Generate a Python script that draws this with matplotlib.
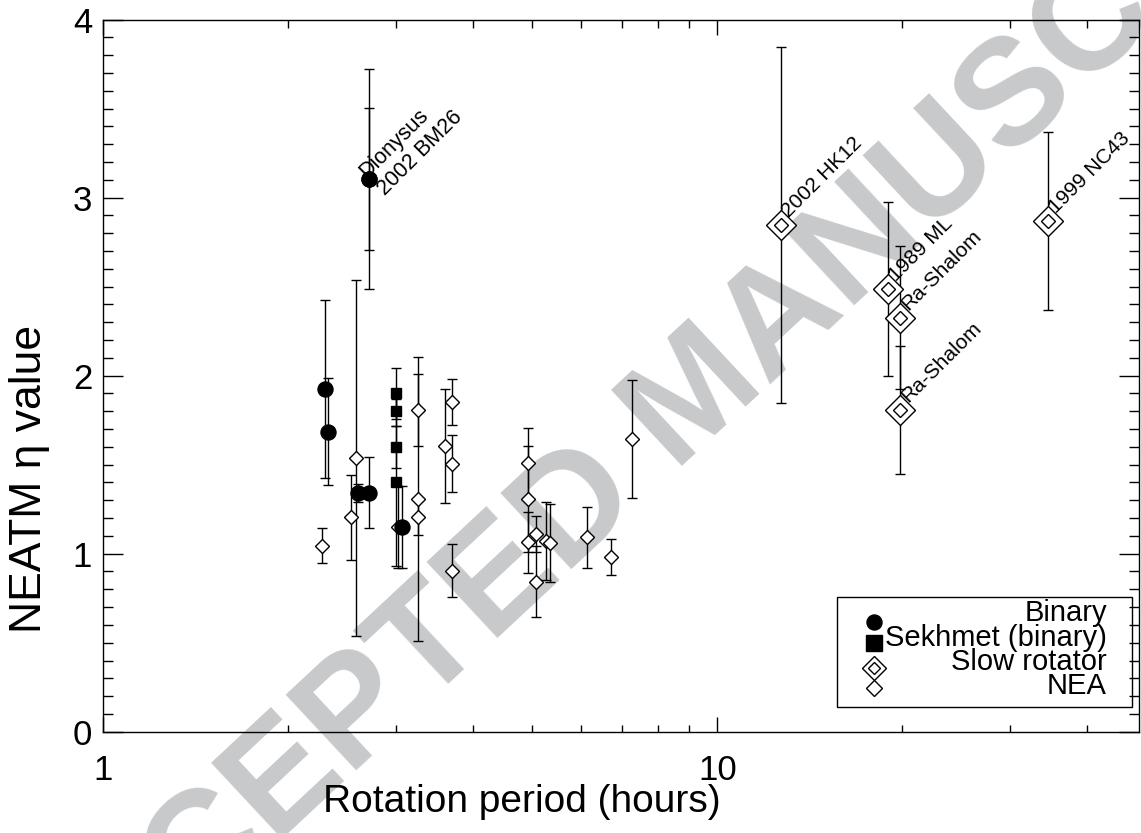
import matplotlib
matplotlib.use("Agg")
import matplotlib.pyplot as plt
from matplotlib.patches import Rectangle

plt.rcParams['font.family'] = ['Liberation Sans', 'DejaVu Sans']

# binary NEAs (filled circles); the last two are the Dionysus / 2002 BM26 points
binary_period = [2.30, 2.32, 2.60, 2.71, 3.07, 2.71, 2.71]
binary_eta = [1.925, 1.685, 1.343, 1.343, 1.152, 3.105, 3.105]
binary_err = [0.50, 0.30, 0.05, 0.20, 0.23, 0.62, 0.40]

# Sekhmet (binary), filled squares
sekhmet_period = [3.00, 3.00, 3.00, 3.00]
sekhmet_eta = [1.90, 1.80, 1.60, 1.40]
sekhmet_err = [0.145, 0.085, 0.12, 0.47]

# other NEAs, open diamonds
nea_period = [2.27, 2.53, 2.58, 3.26, 3.26, 3.26, 3.60, 3.70, 3.70, 3.70, 3.02,
              4.92, 4.92, 4.92, 5.06, 5.06, 5.27, 5.33, 6.14, 6.71, 7.26]
nea_eta = [1.045, 1.204, 1.536, 1.807, 1.307, 1.204, 1.607, 1.854, 1.504, 0.904, 1.152,
           1.508, 1.307, 1.064, 1.109, 0.843, 1.073, 1.060, 1.092, 0.983, 1.644]
nea_err = [0.10, 0.24, 1.00, 0.20, 0.80, 0.10, 0.32, 0.13, 0.16, 0.15, 0.23,
           0.20, 0.30, 0.17, 0.10, 0.20, 0.22, 0.22, 0.17, 0.10, 0.33]

# slow rotators, double diamonds
slow_period = [12.70, 18.95, 19.86, 19.86, 34.5]
slow_eta = [2.847, 2.487, 2.326, 1.807, 2.869]
slow_err = [1.00, 0.49, 0.40, 0.36, 0.50]
slow_names = ['2002 HK12', '1989 ML', 'Ra-Shalom', 'Ra-Shalom', '1999 NC43']

x_major = [1, 10]
x_major_labels = ['1', '10']
x_minor = [2, 3, 4, 5, 6, 7, 8, 9, 20, 30, 40]

legend_labels = ['Binary', 'Sekhmet (binary)', 'Slow rotator', 'NEA']

fig = plt.figure(figsize=(11.41, 8.33), dpi=100, facecolor='white')
ax = fig.add_axes([0.0905, 0.1216, 0.9077, 0.8548])
ax.set_facecolor('none')

# journal watermark behind everything
fig.text(0.612, 0.522, 'ACCEPTED MANUSCRIPT', rotation=43, rotation_mode='anchor',
         ha='center', va='center', fontsize=109, fontweight='bold',
         color='#c8c9cb', zorder=-1)

eb = dict(fmt='none', ecolor='black', elinewidth=1.0, capsize=3.6, capthick=1.0)
ax.errorbar(nea_period, nea_eta, yerr=nea_err, **eb)
ax.errorbar(sekhmet_period, sekhmet_eta, yerr=sekhmet_err, **eb)
ax.errorbar(binary_period, binary_eta, yerr=binary_err, **eb)
ax.errorbar(slow_period, slow_eta, yerr=slow_err, **eb)

ax.plot(nea_period, nea_eta, 'D', ms=7.6, mfc='white', mec='black', mew=1.0, ls='none')
ax.plot(slow_period, slow_eta, 'D', ms=15.3, mfc='white', mec='black', mew=1.0, ls='none')
ax.plot(slow_period, slow_eta, 'D', ms=7.6, mfc='none', mec='black', mew=1.0, ls='none')
ax.plot(sekhmet_period, sekhmet_eta, 's', ms=7.7, color='black', ls='none')
ax.plot(binary_period, binary_eta, 'o', ms=10.8, color='black', ls='none')

for p, e, name in zip(slow_period, slow_eta, slow_names):
    ax.annotate(name, (p, e), xytext=(6, 5), textcoords='offset points',
                rotation=45, rotation_mode='anchor', ha='left', va='baseline',
                fontsize=15)
ax.annotate('Dionysus\n2002 BM26', (binary_period[5], binary_eta[5]), xytext=(2, -3),
            textcoords='offset points', rotation=45, rotation_mode='anchor',
            ha='left', va='center', fontsize=15.5, linespacing=1.25)

ax.set_xscale('log')
ax.set_xlim(1, 48.6)
ax.set_ylim(0, 4)
ax.set_xticks(x_major)
ax.set_xticklabels(x_major_labels)
ax.set_xticks(x_minor, minor=True)
ax.set_xticklabels([], minor=True)
ax.set_yticks([0, 1, 2, 3, 4])
ax.set_yticks([i / 10 for i in range(1, 40) if i % 10], minor=True)

ax.tick_params(axis='both', which='both', direction='in', top=True, right=True,
               width=1.0, color='black')
ax.tick_params(axis='y', which='major', length=14.4, labelsize=25, pad=8)
ax.tick_params(axis='y', which='minor', length=7.2)
ax.tick_params(axis='x', which='major', length=10.8, labelsize=25, pad=16)
ax.tick_params(axis='x', which='minor', length=5.4)
for s in ax.spines.values():
    s.set_linewidth(1.0)

ax.set_xlabel('Rotation period (hours)', fontsize=28)
ax.xaxis.set_label_coords(0.404, -0.074)
ax.set_ylabel('NEATM η value', fontsize=32)
ax.yaxis.set_label_coords(-0.051, 0.355)

# hand-made legend: symbols on the left, labels right-aligned
ax.add_patch(Rectangle((0.7084, 0.0351), 0.2845, 0.1545, transform=ax.transAxes,
                       fill=False, ec='black', lw=1.0, zorder=5))
mx = 0.7446
ax.plot([mx], [0.1545], 'o', ms=10.8, color='black', transform=ax.transAxes, zorder=6)
ax.plot([mx], [0.1246], 's', ms=11.3, color='black', transform=ax.transAxes, zorder=6)
ax.plot([mx], [0.0895], 'D', ms=12.7, mfc='white', mec='black', mew=1.0,
        transform=ax.transAxes, zorder=6)
ax.plot([mx], [0.0895], 'D', ms=6.6, mfc='none', mec='black', mew=1.0,
        transform=ax.transAxes, zorder=6)
ax.plot([mx], [0.0614], 'D', ms=8.1, mfc='white', mec='black', mew=1.0,
        transform=ax.transAxes, zorder=6)
for lab, ty in zip(legend_labels, [0.155, 0.121, 0.087, 0.053]):
    ax.text(0.9691, ty, lab, transform=ax.transAxes, ha='right', va='baseline',
            fontsize=21, zorder=6)

fig.savefig('out.png', dpi=100)
